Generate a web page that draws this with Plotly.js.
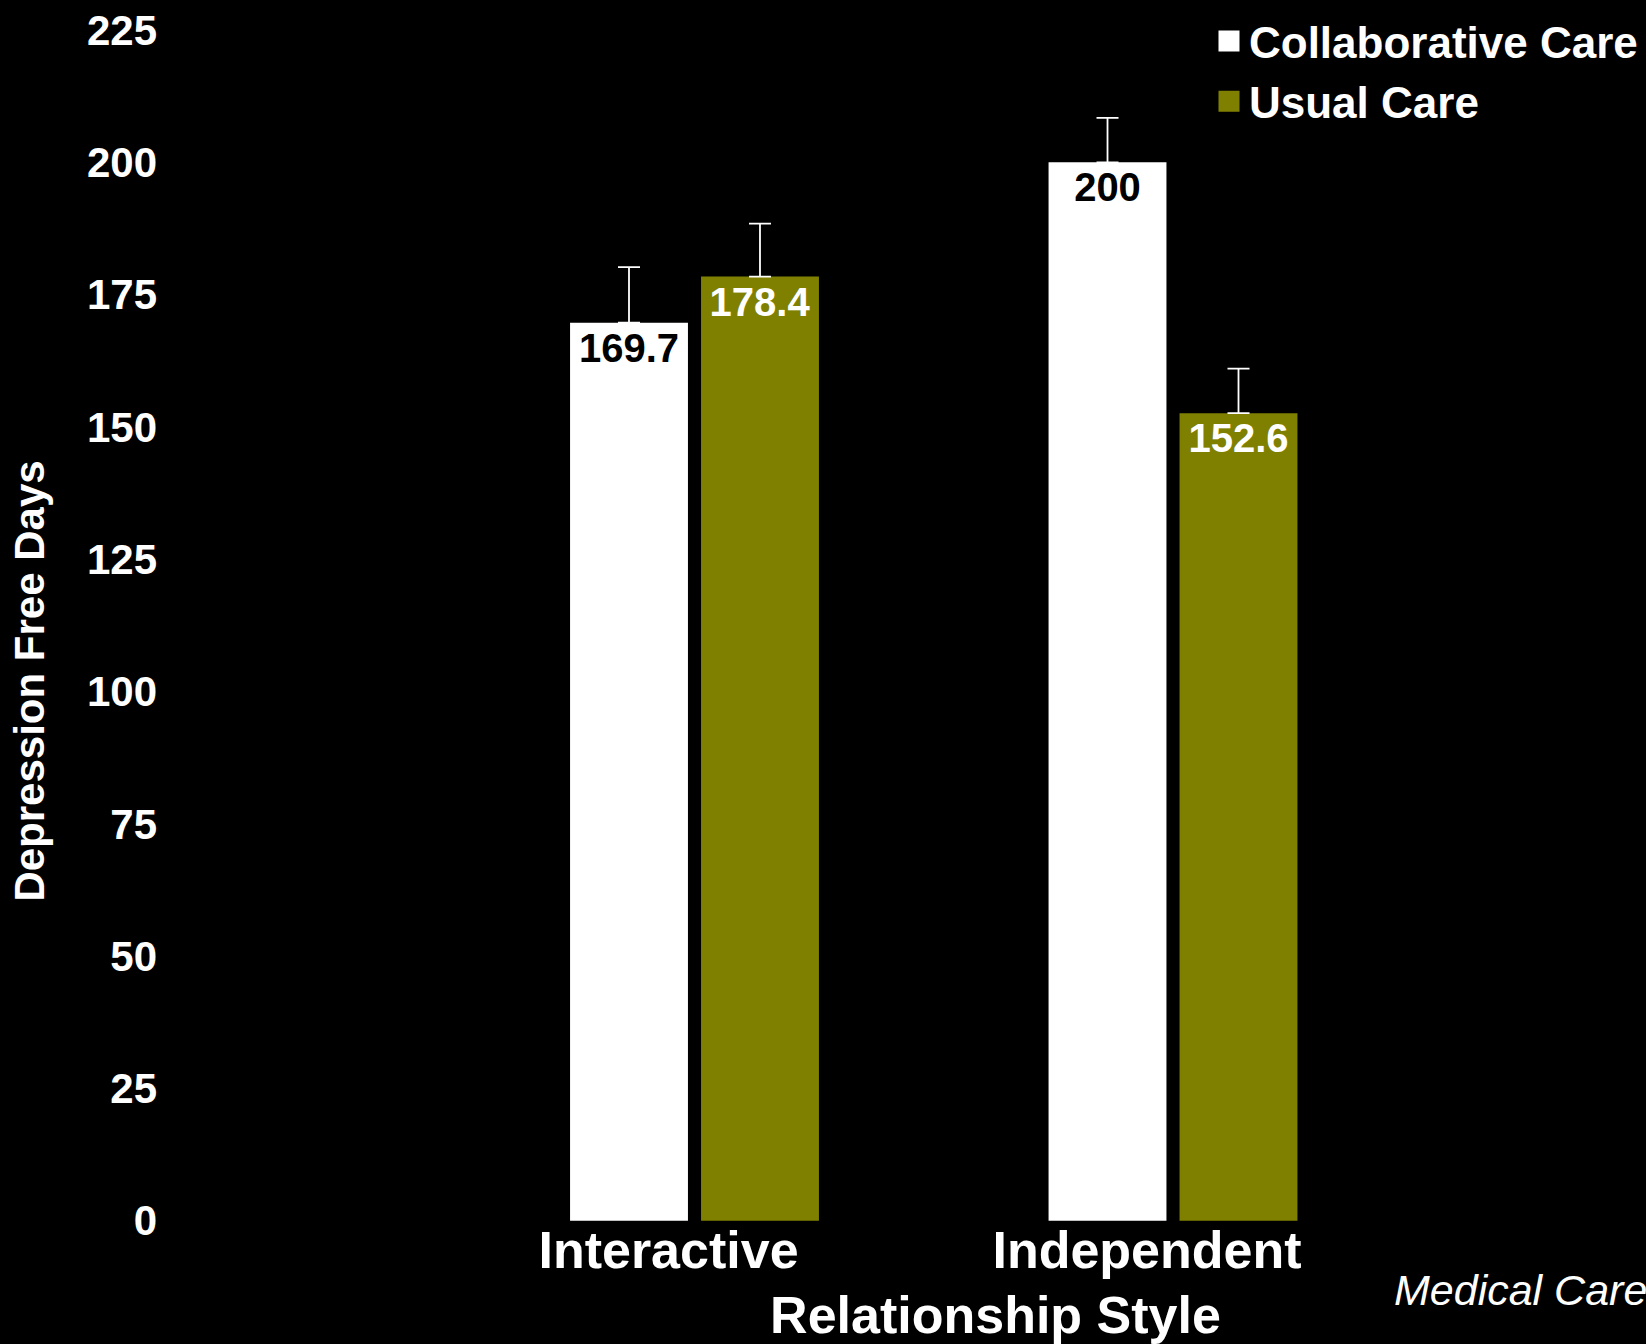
<!DOCTYPE html>
<html>
<head>
<meta charset="utf-8">
<script src="https://cdn.plot.ly/plotly-3.0.1.min.js"></script>
<style>
html, body { margin: 0; padding: 0; background: #000; }
#chart { width: 1646px; height: 1344px; }
</style>
</head>
<body>
<div id="chart"></div>
<script>
// ---- data ----
const categories = ['Interactive', 'Independent'];
const seriesNames = ['Collaborative Care', 'Usual Care'];
const collaborativeCare = [169.7, 200];
const usualCare = [178.4, 152.6];
const collaborativeErr = [10.5, 8.4];
const usualErr = [10.0, 8.4];
const yTickVals = [0, 25, 50, 75, 100, 125, 150, 175, 200, 225];
const xTitle = 'Relationship Style';
const yTitle = 'Depression Free Days';
const sourceNote = 'Medical Care';

// ---- styles ----
const FONT = 'Liberation Sans, Arial, Helvetica, sans-serif';
const WHITE = '#ffffff';
const OLIVE = '#808000';

function barTrace(name, values, errs, color, textColor) {
  return {
    type: 'bar',
    name: name,
    x: categories,
    y: values,
    text: values.map(v => String(v)),
    textposition: 'inside',
    insidetextanchor: 'end',
    textangle: 0,
    constraintext: 'none',
    textfont: { family: FONT, size: 40, color: textColor, weight: 'bold' },
    marker: { color: color, line: { width: 0 } },
    error_y: {
      type: 'data',
      symmetric: false,
      array: errs,
      arrayminus: errs.map(() => 0),
      color: WHITE,
      thickness: 1.8,
      width: 11
    },
    showlegend: false,
    hoverinfo: 'x+y'
  };
}

function legendTrace(name, color) {
  return {
    type: 'scatter',
    mode: 'markers',
    name: name,
    x: [null],
    y: [null],
    marker: { symbol: 'square', size: 16, color: color, line: { color: color, width: 5 } },
    showlegend: true,
    hoverinfo: 'skip'
  };
}

const data = [
  barTrace(seriesNames[0], collaborativeCare, collaborativeErr, WHITE, '#000000'),
  barTrace(seriesNames[1], usualCare, usualErr, OLIVE, WHITE),
  legendTrace(seriesNames[0], WHITE),
  legendTrace(seriesNames[1], OLIVE)
];

const layout = {
  width: 1646,
  height: 1344,
  paper_bgcolor: '#000000',
  plot_bgcolor: '#000000',
  font: { family: FONT, color: WHITE },
  margin: { l: 345, r: 0, t: 30, b: 12, pad: 0 },
  barmode: 'group',
  bargap: 0.4525,
  bargroupgap: 0.1,
  showlegend: true,
  legend: {
    xref: 'paper', yref: 'paper',
    x: 0.6641, y: 1.0185,
    xanchor: 'left', yanchor: 'top',
    bgcolor: 'rgba(0,0,0,0)',
    borderwidth: 0,
    itemsizing: 'trace',
    tracegroupgap: 0,
    font: { family: FONT, size: 44, color: WHITE, weight: 'bold' }
  },
  xaxis: {
    type: 'category',
    range: [-0.7304, 1.9885],
    anchor: 'free',
    position: 0.0855,
    showgrid: false, zeroline: false, showline: false,
    ticks: '',
    automargin: false,
    ticklabelstandoff: -6,
    ticklabelshift: -26,
    tickfont: { family: FONT, size: 52, color: WHITE, weight: 'bold' },
    title: {
      text: xTitle,
      standoff: 26,
      font: { family: FONT, size: 52, color: WHITE, weight: 'bold' }
    }
  },
  yaxis: {
    range: [-21.03, 225],
    tickmode: 'array',
    tickvals: yTickVals,
    ticktext: yTickVals.map(String),
    showgrid: false, zeroline: false, showline: false,
    ticks: '',
    automargin: false,
    ticklabelstandoff: 187,
    tickfont: { family: FONT, size: 42, color: WHITE, weight: 'bold' },
    title: {
      text: yTitle,
      standoff: 29,
      font: { family: FONT, size: 42, color: WHITE, weight: 'bold' }
    }
  },
  annotations: [
    {
      xref: 'paper', yref: 'paper',
      x: 0.8048, y: 0.0323,
      xanchor: 'left', yanchor: 'middle',
      showarrow: false,
      text: sourceNote,
      font: { family: FONT, size: 43, color: WHITE, style: 'italic' }
    }
  ]
};

Plotly.newPlot('chart', data, layout, { staticPlot: true, displayModeBar: false });
</script>
</body>
</html>
